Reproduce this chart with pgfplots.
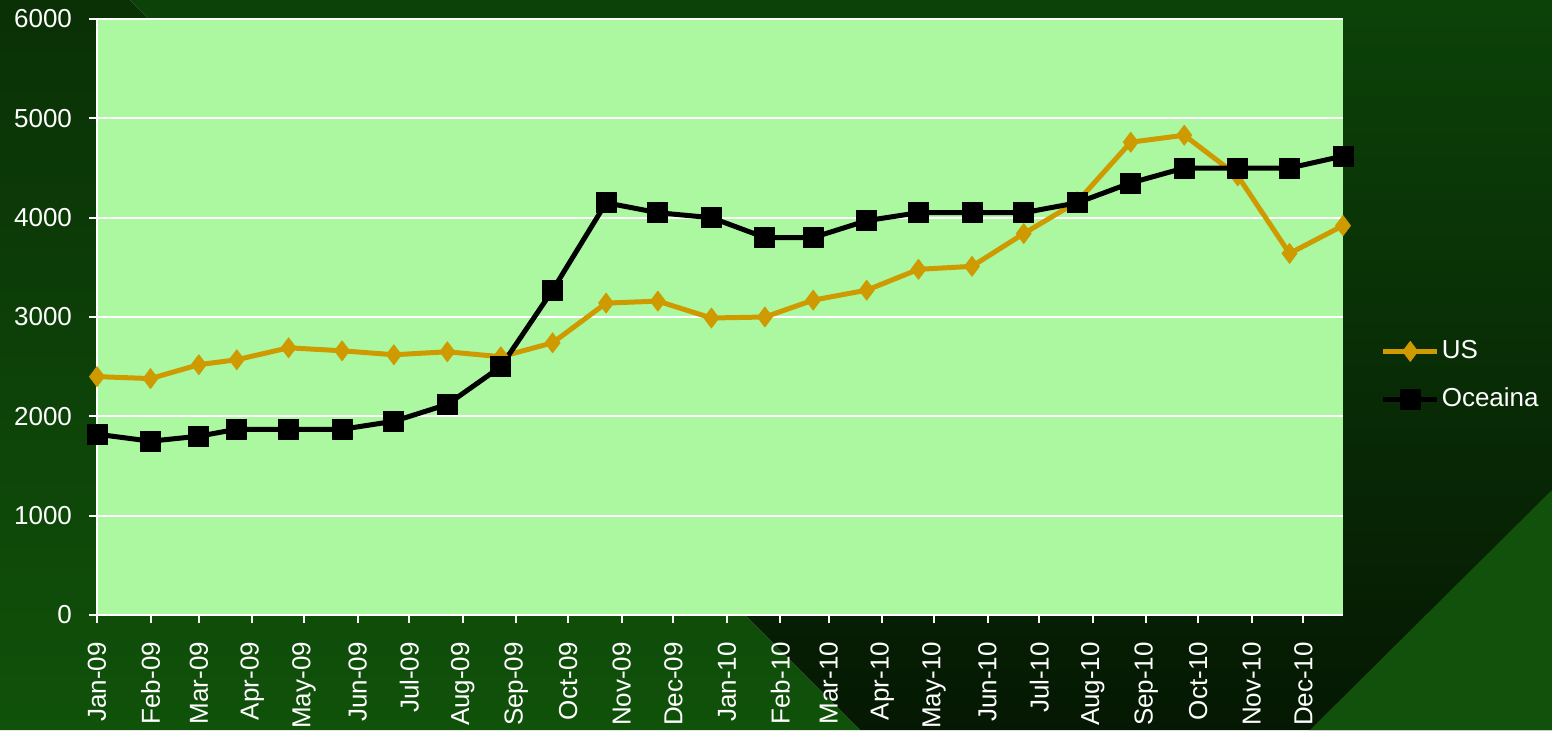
\documentclass[border=0pt]{standalone}
\usepackage{pgfplots}
\pgfplotsset{compat=1.18}
\usepackage{fontspec}
\setmainfont{Liberation Sans}

\definecolor{bgA}{HTML}{0A3006}
\definecolor{bgB}{HTML}{10520A}
\definecolor{bgC}{HTML}{0C4208}
\definecolor{bgD}{HTML}{051803}
\definecolor{bgE}{HTML}{11510B}
\definecolor{plotbg}{HTML}{ABF8A1}
\definecolor{usgold}{HTML}{CF9A00}
\newcommand{\fsz}{\fontsize{13}{15}\selectfont}

\begin{document}
\begin{tikzpicture}
% slide background
\shade[top color=bgA, bottom color=bgB] (0pt,365pt) -- (65pt,365pt) -- (430pt,0pt) -- (0pt,0pt) -- cycle;
\shade[top color=bgC, bottom color=bgD] (65pt,365pt) -- (776pt,365pt) -- (776pt,0pt) -- (430pt,0pt) -- cycle;
\fill[bgE] (655pt,0pt) -- (776pt,0pt) -- (776pt,120pt) -- cycle;

\begin{axis}[
    at={(48.5pt,57.5pt)}, anchor=south west,
    scale only axis, width=623pt, height=298pt,
    xmin=0, xmax=722, ymin=0, ymax=6000,
    axis x line*=bottom, axis y line*=left,
    axis line style={white, line width=1pt},
    axis background/.style={fill=plotbg},
    xtick={0,31,59,90,120,151,181,212,243,273,304,334,365,396,424,455,485,516,546,577,608,638,669,699},
    xticklabels={Jan-09,Feb-09,Mar-09,Apr-09,May-09,Jun-09,Jul-09,Aug-09,Sep-09,Oct-09,Nov-09,Dec-09,
                 Jan-10,Feb-10,Mar-10,Apr-10,May-10,Jun-10,Jul-10,Aug-10,Sep-10,Oct-10,Nov-10,Dec-10},
    xticklabel style={rotate=90, anchor=east, font=\fsz, text=white},
    xticklabel shift=6pt,
    ytick={0,1000,...,6000},
    yticklabel style={font=\fsz, text=white},
    yticklabel shift=5pt,
    /pgf/number format/assume math mode=true,
    /pgf/number format/1000 sep={},
    ymajorgrids, grid style={white, line width=1pt},
    tick align=outside, major tick length=4pt,
    tick style={white, line width=1pt},
    clip=false,
    legend style={at={(1.03,0.402)}, anchor=west, draw=none, fill=none,
        text=white, font=\fsz, row sep=10pt, inner sep=0pt,
        nodes={inner sep=1pt, text height=9.5pt, text depth=2.5pt}},
    legend cell align=left,
    legend image code/.code={\draw[mark repeat=2,mark phase=2] plot coordinates {(0pt,0pt) (13.5pt,0pt) (27pt,0pt)};},
]

\addplot[color=usgold, line width=2.5pt, line join=round, mark=diamond*, mark size=5pt,
    mark options={solid, line width=0.4pt}] coordinates {
    (0,2400) (31,2380) (59,2520) (81,2570) (111,2690) (142,2660) (172,2620) (203,2650)
    (234,2600) (264,2740) (295,3140) (325,3160) (356,2990) (387,3000) (415,3170) (446,3270)
    (476,3480) (507,3510) (537,3840) (568,4160) (599,4760) (630,4830) (661,4420) (691,3640)
    (722,3920)
};
\addlegendentry{US}

\addplot[color=black, line width=2.5pt, line join=round, mark=square*, mark size=5pt,
    mark options={solid, line width=0.4pt}] coordinates {
    (0,1820) (31,1750) (59,1800) (81,1870) (111,1870) (142,1870) (172,1950) (203,2120)
    (234,2500) (264,3270) (295,4150) (325,4050) (356,4000) (387,3800) (415,3800) (446,3970)
    (476,4050) (507,4050) (537,4050) (568,4150) (599,4350) (630,4500) (661,4500) (691,4500)
    (722,4620)
};
\addlegendentry{Oceaina}

\end{axis}
\pgfresetboundingbox
\path (0pt,0pt) rectangle (776pt,365pt);
\end{tikzpicture}
\end{document}
